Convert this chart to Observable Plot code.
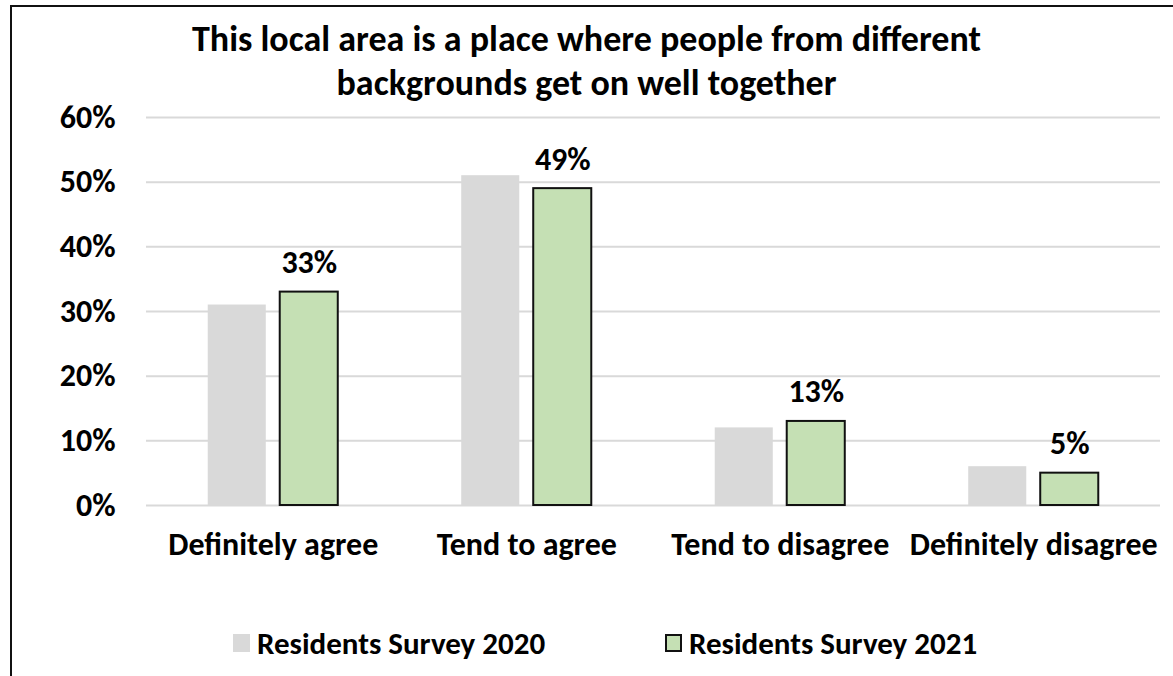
<!DOCTYPE html>
<html>
<head>
<meta charset="utf-8">
<script src="https://cdn.jsdelivr.net/npm/d3@7"></script>
<script src="https://cdn.jsdelivr.net/npm/@observablehq/plot@0.6"></script>
<style>
  html, body { margin: 0; padding: 0; background: #fff; overflow: hidden; width: 1173px; height: 676px; }
  body { position: relative; font-family: Carlito, Lato, sans-serif; font-weight: bold; color: #000; }
  #frame { position: absolute; left: 10px; top: 5px; width: 1400px; height: 900px; border: 2px solid #111; box-sizing: border-box; }
  #title { position: absolute; left: 0; top: 17px; width: 1173px; text-align: center; font-size: 36px; line-height: 44px; }
  #chart { position: absolute; left: 0; top: 100px; }
  #legend { position: absolute; left: 0; top: 623px; width: 1173px; height: 40px; font-size: 31px; }
  .item { position: absolute; top: 0; display: flex; align-items: center; height: 40px; }
  .sw { width: 17px; height: 18px; box-sizing: border-box; margin-right: 7px; }
</style>
</head>
<body>
<div id="frame"></div>
<div id="title">This local area is a place where people from different<br>backgrounds get on well together</div>
<div id="chart"></div>
<div id="legend"></div>
<script>
const categories = ["Definitely agree", "Tend to agree", "Tend to disagree", "Definitely disagree"];
const seriesNames = ["Residents Survey 2020", "Residents Survey 2021"];
const values2020 = [0.31, 0.51, 0.12, 0.06];
const values2021 = [0.33, 0.49, 0.13, 0.05];
const yTicks = [0, 0.1, 0.2, 0.3, 0.4, 0.5, 0.6];
const seriesColors = ["#d9d9d9", "#c5e0b4"];

const rows2020 = categories.map((c, i) => ({category: c, series: seriesNames[0], value: values2020[i]}));
const rows2021 = categories.map((c, i) => ({category: c, series: seriesNames[1], value: values2021[i]}));

// layout of the two bars inside each category band
const bandW = 130, barW = 58, inset = bandW - barW;
const labelDx = inset + barW / 2 - bandW / 2;

const chart = Plot.plot({
  width: 1173,
  height: 490,
  marginLeft: 146,
  marginRight: 13,
  marginTop: 17,
  marginBottom: 85,
  style: {fontFamily: "Carlito, Lato, sans-serif", fontWeight: "bold", fontSize: "32px", color: "#000", background: "transparent", overflow: "visible"},
  x: {domain: categories, paddingInner: 0.487, paddingOuter: 0.2435, round: false},
  y: {domain: [0, 0.6]},
  color: {domain: seriesNames, range: seriesColors},
  marks: [
    Plot.ruleY(yTicks, {stroke: "#d9d9d9", strokeWidth: 2}),
    Plot.barY(rows2020, {x: "category", y: "value", fill: "series", insetRight: inset}),
    Plot.barY(rows2021, {x: "category", y: "value", fill: "series", insetLeft: inset, stroke: "#111", strokeWidth: 2}),
    Plot.text(rows2021, {x: "category", y: "value", text: d => d3.format(".0%")(d.value), dx: labelDx, dy: -19, lineAnchor: "bottom", fill: "#000", fontSize: 32, fontWeight: "bold"}),
    Plot.axisY({ticks: yTicks, tickFormat: d3.format(".0%"), tickSize: 0, tickPadding: 31, label: null, fontSize: 32}),
    Plot.axisX({tickSize: 0, tickPadding: 27, label: null, fontSize: 32})
  ]
});
document.getElementById("chart").appendChild(chart);

const legend = document.getElementById("legend");
const legendX = [233, 665];
seriesNames.forEach((name, i) => {
  const item = document.createElement("div");
  item.className = "item";
  item.style.left = legendX[i] + "px";
  const sw = document.createElement("div");
  sw.className = "sw";
  sw.style.background = seriesColors[i];
  if (i === 1) sw.style.border = "2px solid #111";
  const label = document.createElement("span");
  label.textContent = name;
  item.appendChild(sw);
  item.appendChild(label);
  legend.appendChild(item);
});
</script>
</body>
</html>
